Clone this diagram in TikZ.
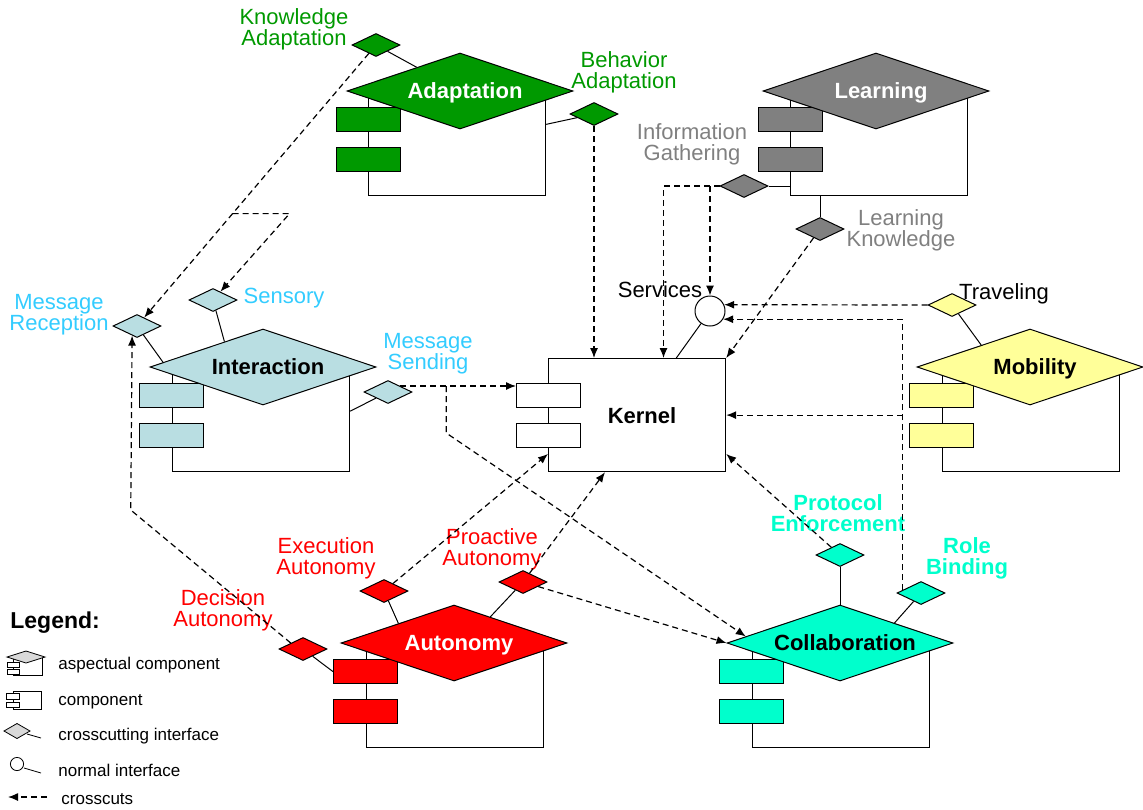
\documentclass[tikz,border=0pt]{standalone}
\usepackage{fontspec}
\setmainfont{Liberation Sans}
\usetikzlibrary{shapes.geometric,arrows.meta,calc}

\definecolor{adaptgreen}{RGB}{0,153,0}
\definecolor{learngray}{RGB}{128,128,128}
\definecolor{interblue}{RGB}{185,222,226}
\definecolor{interlabel}{RGB}{51,204,255}
\definecolor{mobyellow}{RGB}{255,255,153}
\definecolor{autored}{RGB}{255,0,0}
\definecolor{collabcyan}{RGB}{0,255,204}
\definecolor{legendgray}{RGB}{217,217,217}

\tikzset{
  body/.style={draw, fill=white, line width=0.6pt, minimum width=88.5pt, minimum height=52pt, inner sep=0pt, anchor=north west},
  bar/.style={draw, fill=white, line width=0.6pt, minimum width=32pt, minimum height=12pt, inner sep=0pt, anchor=north west},
  hat/.style={diamond, draw, line width=0.5pt, aspect=3, minimum width=113pt, minimum height=38pt, inner sep=0pt, text depth=0pt,
    execute at begin node=\hspace*{5pt}, font=\fontsize{11}{13}\selectfont\bfseries},
  iface/.style={diamond, draw, line width=0.5pt, aspect=2, minimum width=24pt, minimum height=11.5pt, inner sep=0pt},
  lbl/.style={align=center, inner sep=0pt, yshift=-1pt, font=\fontsize{11}{10.5}\selectfont},
  tie/.style={line width=0.5pt},
  crosscut/.style={line width=0.6pt, dash pattern=on 3pt off 2pt, -{Latex[length=5pt,width=4pt]}},
  legtext/.style={anchor=west, inner sep=0pt, font=\fontsize{8.5}{10}\selectfont},
}

\begin{document}
\begin{tikzpicture}[x=0.5pt,y=-0.5pt]
\useasboundingbox (0,0) rectangle (1143,809);

% Adaptation
\node[body] (adaptbody) at (368,91) {};
\node[bar,fill=adaptgreen] (adaptbarA) at (336,107) {};
\node[bar,fill=adaptgreen] (adaptbarB) at (336,147) {};
\node[hat,fill=adaptgreen,text=white] (adapt) at (460,91) {Adaptation};
\node[iface,fill=adaptgreen] (ka) at (376,45) {};
\node[iface,fill=adaptgreen] (ba) at (594,114) {};
\node[lbl,text=adaptgreen] (kalbl) at (294,27) {Knowledge\\Adaptation};
\node[lbl,text=adaptgreen] (balbl) at (624,70) {Behavior\\Adaptation};
\draw[tie] (ka) -- (adapt);
\draw[tie] (ba) -- (adaptbody);

% Learning
\node[body] (learnbody) at (790,91) {};
\node[bar,fill=learngray] (learnbarA) at (758,107) {};
\node[bar,fill=learngray] (learnbarB) at (758,147) {};
\node[hat,fill=learngray,text=white] (learn) at (876,91) {Learning};
\node[iface,fill=learngray] (ig) at (744,186) {};
\node[iface,fill=learngray] (lk) at (820,229) {};
\node[lbl,text=learngray] (iglbl) at (692,142) {Information\\Gathering};
\node[lbl,text=learngray] (lklbl) at (901,228) {Learning\\Knowledge};
\draw[tie] (ig.east) -- (ig.east -| learnbody.west);
\draw[tie] (lk.north) -- (lk.north |- learnbody.south);

% Interaction
\node[body] (interbody) at (172,367) {};
\node[bar,fill=interblue] (interbarA) at (139,383) {};
\node[bar,fill=interblue] (interbarB) at (139,423) {};
\node[hat,fill=interblue] (inter) at (263,367) {Interaction};
\node[iface,fill=interblue] (mr) at (137,326) {};
\node[iface,fill=interblue] (sens) at (213,300) {};
\node[iface,fill=interblue] (ms) at (388,392) {};
\node[lbl,text=interlabel] (mrlbl) at (59,313) {Message\\Reception};
\node[lbl,text=interlabel] (senslbl) at (284,296) {Sensory};
\node[lbl,text=interlabel] (mslbl) at (428,352) {Message\\Sending};
\draw[tie] (mr) -- ($(inter.west)!0.12!(inter.north)$);
\draw[tie] (sens) -- ($(inter.west)!0.66!(inter.north)$);
\draw[tie] (ms) -- ($(interbody.north east)!0.42!(interbody.south east)$);

% Kernel
\node[body,minimum height=56.5pt] (kernel) at (548,358) {};
\node[bar] (kbarA) at (516,383) {};
\node[bar] (kbarB) at (516,423) {};
\node[font=\fontsize{11}{13}\selectfont\bfseries] (kernellbl) at (642,416) {Kernel};
\node[draw,circle,minimum size=15pt,inner sep=0pt,line width=0.5pt] (svc) at (710,311) {};
\node[lbl] (svclbl) at (660,288) {Services};
\draw[tie] (svc) -- ($(kernel.north west)!0.72!(kernel.north east)$);

% Mobility
\node[body] (mobbody) at (942,367) {};
\node[bar,fill=mobyellow] (mobbarA) at (909,383) {};
\node[bar,fill=mobyellow] (mobbarB) at (909,423) {};
\node[hat,fill=mobyellow] (mob) at (1030,367) {Mobility};
\node[iface,fill=mobyellow] (trav) at (952,305) {};
\node[lbl] (travlbl) at (1004,292) {Traveling};
\draw[tie] (trav) -- ($(mob.west)!0.57!(mob.north)$);

% Autonomy
\node[body] (autbody) at (366,643) {};
\node[bar,fill=autored] (autbarA) at (333,659) {};
\node[bar,fill=autored] (autbarB) at (333,699) {};
\node[hat,fill=autored,text=white] (aut) at (454,643) {Autonomy};
\node[iface,fill=autored] (exe) at (384,591) {};
\node[iface,fill=autored] (pro) at (523,582) {};
\node[iface,fill=autored] (dec) at (303,649) {};
\node[lbl,text=autored] (exelbl) at (326,556) {Execution\\Autonomy};
\node[lbl,text=autored] (prolbl) at (492,547) {Proactive\\Autonomy};
\node[lbl,text=autored] (declbl) at (223,608) {Decision\\Autonomy};
\draw[tie] (exe) -- ($(aut.west)!0.51!(aut.north)$);
\draw[tie] (pro) -- ($(aut.north)!0.32!(aut.east)$);
\draw[tie] (dec) -- (autbarA.west);

% Collaboration
\node[body] (colbody) at (752,643) {};
\node[bar,fill=collabcyan] (colbarA) at (719,659) {};
\node[bar,fill=collabcyan] (colbarB) at (719,699) {};
\node[hat,fill=collabcyan] (collab) at (840,643) {Collaboration};
\node[iface,fill=collabcyan] (pe) at (840,555) {};
\node[iface,fill=collabcyan] (rb) at (921,593) {};
\node[lbl,text=collabcyan,font=\fontsize{11}{10.5}\selectfont\bfseries] (pelbl) at (838,511) {Protocol\\Enforcement};
\node[lbl,text=collabcyan,font=\fontsize{11}{10.5}\selectfont\bfseries] (rblbl) at (967,556) {Role\\Binding};
\draw[tie] (pe) -- (collab.north);
\draw[tie] (rb) -- ($(collab.north)!0.48!(collab.east)$);

% crosscuts
\coordinate (kabr) at ($(ka)!0.6!(mr)$);
\draw[crosscut] (ka) -- (mr);
\draw[crosscut] (kabr) -- ++(57,0) -- (sens);
\draw[crosscut] (ba.south) -- (ba.south |- kernel.north);
\coordinate (igturn) at ($(ig.west)+(-56,0)$);
\draw[crosscut] (ig.west) -- (igturn) -- (igturn |- kernel.north);
\draw[crosscut] (ig.west -| svc.north) -- (svc.north);
\draw[crosscut] (lk) -- (kernel.north east);
\draw[crosscut] (trav.west) -- (svc.24);
\coordinate (rbx) at ($(rb.west)!0.25!(rb.north)$);
\draw[crosscut] (rbx) |- (svc.-32);
\draw[crosscut] (rbx |- kernel.east) -- (kernel.east);
\draw[crosscut] (pe) -- ($(kernel.north east)!0.84!(kernel.south east)$);
\coordinate (msx) at ($(ms.north)!0.5!(ms.east)$);
\draw[crosscut] (msx) -- (msx -| kbarA.west);
\draw[crosscut] (msx) ++(46,0) -- ++(0,47) -- ($(collab.west)!0.17!(collab.north)$);
\draw[crosscut] (exe) -- ($(kernel.north west)!0.84!(kernel.south west)$);
\draw[crosscut] (pro) -- ($(kernel.south west)!0.32!(kernel.south east)$);
\draw[crosscut] (pro) -- (collab.west);
\draw[crosscut] ($(dec.west)!0.5!(dec.north)$) -- ++(-160,-133) -- ($(mr.west)!0.8!(mr.south)$);

% legend
\node[anchor=west,inner sep=0pt,font=\fontsize{11.5}{13}\selectfont\bfseries] (legend) at (10,623) {Legend:};
\draw[fill=white] (13,657) rectangle (42,675);
\draw[fill=white] (7,662) rectangle (19,667);
\draw[fill=white] (7,669) rectangle (19,674);
\draw[fill=legendgray] (7,657) -- (26,651) -- (45,657) -- (26,663) -- cycle;
\node[legtext] (legasp) at (58,665) {aspectual component};
\draw[fill=white] (13,691) rectangle (41,709);
\draw[fill=white] (6,693) rectangle (19,699);
\draw[fill=white] (6,702) rectangle (19,707);
\node[legtext] (legcomp) at (58,702) {component};
\draw[fill=legendgray] (4,731) -- (17,723.5) -- (30,731) -- (17,738.5) -- cycle;
\draw (27,734) -- (41,738);
\node[legtext] (legcross) at (58,736) {crosscutting interface};
\draw (17,764) circle (3.3pt);
\draw (24,768) -- (41,773);
\node[legtext] (legnorm) at (58,770) {normal interface};
\draw[crosscut] (47,797) -- (8,797);
\node[legtext] (legcuts) at (61,799) {crosscuts};
\end{tikzpicture}
\end{document}
